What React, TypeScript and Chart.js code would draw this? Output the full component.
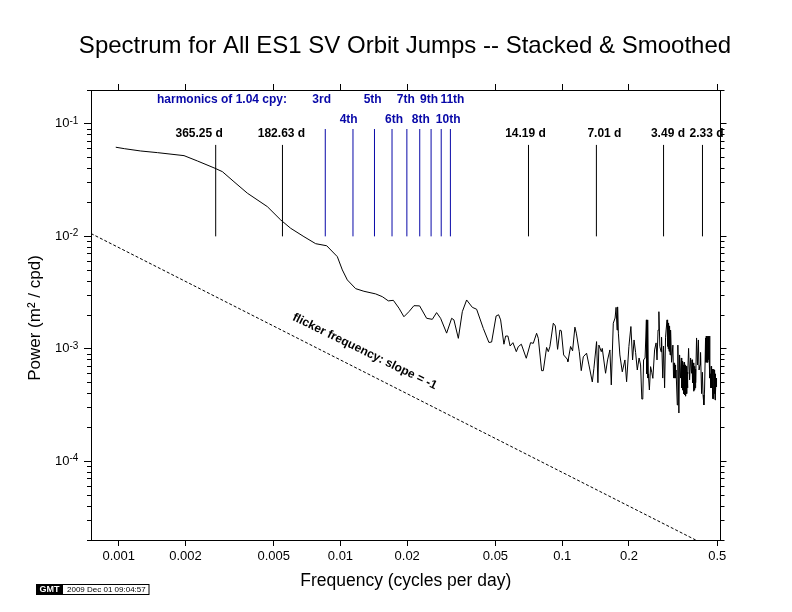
import { Chart, registerables } from "chart.js"
import type { Plugin } from "chart.js"
import { FC, useEffect, useRef } from "react"

Chart.register(...registerables)

const FONT = "'Liberation Sans', Arial, sans-serif"

const titleText = "Spectrum for All ES1 SV Orbit Jumps -- Stacked & Smoothed"
const xTitle = "Frequency (cycles per day)"
const yTitle = "Power (m\u00B2 / cpd)"
const stampText = "2009 Dec 01 09:04:57"
const harmonicsText = "harmonics of 1.04 cpy:"
const flickerText = "flicker frequency: slope = -1"

const xTicks = [0.001, 0.002, 0.005, 0.01, 0.02, 0.05, 0.1, 0.2, 0.5]
const yMajorTicks = [0.1, 0.01, 0.001, 0.0001]
const yExponents = ["-1", "-2", "-3", "-4"]
const yMinorTicks = [
    0.2, 0.09, 0.08, 0.07, 0.06, 0.05, 0.04, 0.03, 0.02,
    0.009, 0.008, 0.007, 0.006, 0.005, 0.004, 0.003, 0.002,
    0.0009, 0.0008, 0.0007, 0.0006, 0.0005, 0.0004, 0.0003, 0.0002,
    0.00009, 0.00008, 0.00007, 0.00006, 0.00005, 0.00004, 0.00003, 0.00002
]

const frequency = [
    0.00097, 0.00106, 0.001257, 0.001495, 0.00197, 0.002264, 0.002718, 0.002935, 0.00331, 0.003804,
    0.004682, 0.005376, 0.005963, 0.006845, 0.00773, 0.00867, 0.00968, 0.0102, 0.01074, 0.01171,
    0.01276, 0.01441, 0.01545, 0.01644, 0.01732, 0.01836, 0.01933, 0.02036, 0.02145, 0.02275,
    0.02447, 0.02596, 0.02714, 0.02829, 0.03012, 0.03173, 0.03249, 0.03401, 0.03545, 0.03707,
    0.03933, 0.04112, 0.04408, 0.04672, 0.04805, 0.05035, 0.05168, 0.05276, 0.0546, 0.05557,
    0.05691, 0.05823, 0.05995, 0.06209, 0.06339, 0.06541, 0.06887, 0.07202, 0.07407, 0.07666,
    0.07803, 0.08075, 0.08217, 0.08505, 0.08656, 0.08801, 0.09117, 0.09311, 0.09535, 0.09766,
    0.09906, 0.1015, 0.1054, 0.1061, 0.1091, 0.1114, 0.1141, 0.1158, 0.1194, 0.1219,
    0.1245, 0.1288, 0.132, 0.1367, 0.139, 0.1429, 0.1449, 0.1464, 0.1501, 0.1516,
    0.1569, 0.1602, 0.1641, 0.1665, 0.17, 0.1732, 0.175, 0.1768, 0.1778, 0.1792,
    0.182, 0.1866, 0.1918, 0.1952, 0.1999, 0.2041, 0.2077, 0.2109, 0.2143, 0.2181,
    0.2222, 0.2257, 0.2286, 0.2309, 0.2328, 0.2365, 0.2397, 0.2406, 0.2415, 0.2425,
    0.2435, 0.2444, 0.2453, 0.2473, 0.2504, 0.2535, 0.2564, 0.261, 0.2651, 0.2677,
    0.2706, 0.2729, 0.2757, 0.2792, 0.2806, 0.2841, 0.2865, 0.2896, 0.2925, 0.2945,
    0.2971, 0.298, 0.2996, 0.3007, 0.3018, 0.3033, 0.3049, 0.3065, 0.3082, 0.3113,
    0.3156, 0.3178, 0.3195, 0.3212, 0.3229, 0.3245, 0.3262, 0.3304, 0.3324, 0.3359,
    0.3384, 0.3418, 0.3447, 0.346, 0.3473, 0.3491, 0.3509, 0.3527, 0.3545, 0.3563,
    0.3582, 0.3601, 0.3627, 0.3642, 0.3658, 0.3673, 0.3688, 0.3715, 0.3754, 0.3793,
    0.3831, 0.3852, 0.3871, 0.3892, 0.3912, 0.3929, 0.3945, 0.3959, 0.3973, 0.3989,
    0.4005, 0.4036, 0.4078, 0.4113, 0.4142, 0.4186, 0.4207, 0.4252, 0.4287, 0.4318,
    0.4354, 0.4385, 0.4431, 0.4447, 0.4464, 0.4477, 0.4491, 0.4508, 0.4525, 0.4539,
    0.4553, 0.457, 0.4586, 0.4603, 0.4619, 0.4636, 0.4653, 0.4682, 0.4699, 0.4717,
    0.4741, 0.4766, 0.4786, 0.4806, 0.4825, 0.4846, 0.4866, 0.4891, 0.4904, 0.4917,
    0.4943, 0.4966
]
const power = [
    0.062, 0.0602, 0.0574, 0.0555, 0.0522, 0.0468, 0.0403, 0.0376, 0.0306, 0.0242,
    0.01837, 0.014, 0.0118, 0.00994, 0.00861, 0.00825, 0.0066, 0.00503, 0.0041, 0.00343,
    0.00325, 0.00308, 0.00291, 0.00267, 0.0027, 0.0023, 0.00193, 0.00214, 0.00242, 0.00241,
    0.00187, 0.00183, 0.0021, 0.00187, 0.00138, 0.00187, 0.00181, 0.00124, 0.00214, 0.00272,
    0.00234, 0.00225, 0.00152, 0.00114, 0.00115, 0.00196, 0.00201, 0.00181, 0.0011, 0.0013,
    0.0013, 0.00106, 0.001135, 0.000944, 0.001046, 0.0011, 0.000825, 0.001135, 0.00112, 0.001376,
    0.00124, 0.00064, 0.00064, 0.00103, 0.000944, 0.001046, 0.00169, 0.0016, 0.00099, 0.00147,
    0.00145, 0.000883, 0.00081, 0.00077, 0.00105, 0.00096, 0.00156, 0.00138, 0.000944, 0.00064,
    0.00085, 0.000915, 0.00072, 0.000508, 0.000672, 0.00116, 0.0005, 0.00108, 0.000944, 0.00101,
    0.000607, 0.000797, 0.000978, 0.000478, 0.00169, 0.00188, 0.00234, 0.00147, 0.00236, 0.00138,
    0.000883, 0.000625, 0.000797, 0.00051, 0.00105, 0.00158, 0.000797, 0.0012, 0.00093, 0.000649,
    0.00083, 0.00072, 0.000358, 0.000358, 0.000797, 0.00083, 0.00181, 0.0006, 0.00175, 0.00055,
    0.00181, 0.0006, 0.00055, 0.000431, 0.000695, 0.00062, 0.000547, 0.000978, 0.00113, 0.000797,
    0.00147, 0.00214, 0.00105, 0.00094, 0.00127, 0.00055, 0.00106, 0.00045, 0.00127, 0.0015,
    0.00181, 0.00105, 0.00175, 0.001, 0.0017, 0.00095, 0.0016, 0.000883, 0.00147, 0.00076,
    0.00108, 0.00055, 0.00075, 0.00055, 0.00072, 0.00055, 0.000649, 0.000317, 0.00108, 0.000269,
    0.000883, 0.00055, 0.00083, 0.00045, 0.00078, 0.00043, 0.00072, 0.0004, 0.00076, 0.000389,
    0.00072, 0.00038, 0.0007, 0.0004, 0.00062, 0.00045, 0.0006, 0.00101, 0.00053, 0.00083,
    0.000607, 0.0008, 0.0005, 0.00075, 0.00042, 0.00072, 0.00043, 0.0007, 0.00045, 0.00066,
    0.0005, 0.00125, 0.00072, 0.0012, 0.000649, 0.00072, 0.00093, 0.0004, 0.00062, 0.000389,
    0.000317, 0.000431, 0.00125, 0.00076, 0.0013, 0.00076, 0.00125, 0.00076, 0.0013, 0.00076,
    0.00127, 0.0008, 0.0013, 0.0008, 0.0013, 0.00055, 0.0006, 0.00045, 0.0007, 0.00045,
    0.00066, 0.00036, 0.00066, 0.00036, 0.00066, 0.0004, 0.000649, 0.000351, 0.0006, 0.0004,
    0.00055, 0.00046
]

const flickerFreq = [0.00075, 0.4]
const flickerPower = [0.0106, 0.00002]

const periodLabels = ["365.25 d", "182.63 d", "14.19 d", "7.01 d", "3.49 d", "2.33 d"]
const periodFreq = [0.002738, 0.005476, 0.07047, 0.14265, 0.2865, 0.4292]
const periodSpan = [0.01, 0.065]

const harmonicLabels = ["3rd", "4th", "5th", "6th", "7th", "8th", "9th", "10th", "11th"]
const harmonicFreq = [0.008542, 0.01139, 0.014237, 0.017084, 0.01993, 0.02278, 0.02563, 0.02847, 0.03132]
const harmonicSpan = [0.01, 0.09]

// label nudges off their lines, in pixels
const periodNudge = [-16.5, -1, -3, 8, 4.4, 4]
const harmonicNudge = [-3.6, -4.3, -1.8, 2, -1, 1, -2, 7, 2]

const BLUE = "#0808a8"

const textPlugin: Plugin = {
    id: "chartText",
    afterDraw(chart) {
        const { ctx, scales } = chart
        const x = scales.x
        const y = scales.y
        ctx.save()
        ctx.textBaseline = "middle"

        // power labels, 10 with a raised exponent
        ctx.fillStyle = "#000"
        ctx.textAlign = "left"
        yMajorTicks.forEach((v, i) => {
            const py = y.getPixelForValue(v)
            ctx.font = `13px ${FONT}`
            ctx.fillText("10", 55, py)
            ctx.font = `10px ${FONT}`
            ctx.fillText(yExponents[i], 69.5, py - 3)
        })

        ctx.textAlign = "center"

        // the title plugin squeezes text to the plot width, so it goes here
        ctx.font = `24px ${FONT}`
        ctx.fillText(titleText, 405, 46)

        ctx.save()
        ctx.translate(35, 318)
        ctx.rotate(-Math.PI / 2)
        ctx.font = `17px ${FONT}`
        ctx.fillText(yTitle, 0, 0)
        ctx.restore()

        ctx.font = `bold 12px ${FONT}`
        periodLabels.forEach((t, i) => {
            ctx.fillText(t, x.getPixelForValue(periodFreq[i]) + periodNudge[i], 134)
        })

        ctx.fillStyle = BLUE
        harmonicLabels.forEach((t, i) => {
            ctx.fillText(t, x.getPixelForValue(harmonicFreq[i]) + harmonicNudge[i], i % 2 ? 120 : 100)
        })
        ctx.fillText(harmonicsText, 222, 100)

        // sits along the flicker line
        ctx.fillStyle = "#000"
        ctx.save()
        ctx.translate(x.getPixelForValue(0.01285), y.getPixelForValue(0.000946))
        ctx.rotate((26 * Math.PI) / 180)
        ctx.font = `bold 12px ${FONT}`
        ctx.fillText(flickerText, 0, 0)
        ctx.restore()

        // GMT time stamp
        ctx.fillStyle = "#000"
        ctx.fillRect(36, 584, 27, 11)
        ctx.lineWidth = 1
        ctx.strokeStyle = "#000"
        ctx.strokeRect(36.5, 584.5, 112.5, 10)
        ctx.fillStyle = "#fff"
        ctx.font = `bold 9px ${FONT}`
        ctx.fillText("GMT", 49.5, 589.5)
        ctx.fillStyle = "#000"
        ctx.textAlign = "left"
        ctx.font = `8px ${FONT}`
        ctx.fillText(stampText, 67, 589.5)
        ctx.restore()
    }
}

const fixTicks = (values: number[]) => (axis: any) => {
    axis.ticks = values.map((value) => ({ value }))
}
const fixWidth = (width: number) => (axis: any) => {
    axis.width = width
}
const fixHeight = (height: number) => (axis: any) => {
    axis.height = height
}

const App: FC = () => {
    const canvas = useRef<HTMLCanvasElement>(null)

    useEffect(() => {
        if (!canvas.current) return

        const curve = frequency.map((f, i) => ({ x: f, y: power[i] }))
        const flicker = flickerFreq.map((f, i) => ({ x: f, y: flickerPower[i] }))

        const frameAxis = (tickLength: number) => ({
            border: { color: "#000", width: 1 },
            grid: { drawOnChartArea: false, tickLength, tickColor: "#000", tickWidth: 1 }
        })

        const chart = new Chart(canvas.current, {
            type: "line",
            data: {
                datasets: [
                    {
                        data: curve,
                        borderColor: "#000",
                        borderWidth: 1,
                        pointRadius: 0,
                        tension: 0
                    },
                    {
                        data: flicker,
                        borderColor: "#000",
                        borderWidth: 1,
                        borderDash: [3, 2],
                        pointRadius: 0
                    },
                    ...periodFreq.map((f) => ({
                        data: periodSpan.map((p) => ({ x: f, y: p })),
                        borderColor: "#000",
                        borderWidth: 1,
                        pointRadius: 0
                    })),
                    ...harmonicFreq.map((f) => ({
                        data: harmonicSpan.map((p) => ({ x: f, y: p })),
                        borderColor: BLUE,
                        borderWidth: 1,
                        pointRadius: 0
                    }))
                ]
            },
            plugins: [textPlugin],
            options: {
                animation: false,
                responsive: false,
                devicePixelRatio: 1,
                layout: { padding: { top: 90 } },
                plugins: {
                    legend: { display: false },
                    tooltip: { enabled: false },
                    title: { display: false }
                },
                scales: {
                    x: {
                        type: "logarithmic",
                        position: "bottom",
                        min: 0.00075,
                        max: 0.5175,
                        afterBuildTicks: fixTicks(xTicks),
                        afterFit: fixHeight(72),
                        ...frameAxis(6),
                        ticks: {
                            color: "#000",
                            padding: 3,
                            autoSkip: false,
                            maxRotation: 0,
                            font: { family: FONT, size: 13 },
                            callback: (v: any) => String(v)
                        },
                        title: {
                            display: true,
                            text: xTitle,
                            color: "#000",
                            font: { family: FONT, size: 17.5 },
                            padding: { top: 0, bottom: 20 }
                        }
                    },
                    xTop: {
                        type: "logarithmic",
                        position: "top",
                        min: 0.00075,
                        max: 0.5175,
                        afterBuildTicks: fixTicks(xTicks),
                        afterFit: fixHeight(0),
                        ...frameAxis(6),
                        ticks: { display: false }
                    },
                    y: {
                        type: "logarithmic",
                        position: "left",
                        weight: 1,
                        min: 0.00002,
                        max: 0.2,
                        afterBuildTicks: fixTicks(yMajorTicks),
                        afterFit: fixWidth(91),
                        ...frameAxis(7),
                        ticks: { display: false }
                    },
                    yMinor: {
                        type: "logarithmic",
                        position: "left",
                        weight: 0,
                        min: 0.00002,
                        max: 0.2,
                        afterBuildTicks: fixTicks(yMinorTicks),
                        afterFit: fixWidth(0),
                        ...frameAxis(4),
                        ticks: { display: false }
                    },
                    yRight: {
                        type: "logarithmic",
                        position: "right",
                        weight: 1,
                        min: 0.00002,
                        max: 0.2,
                        afterBuildTicks: fixTicks(yMajorTicks),
                        afterFit: fixWidth(71.5),
                        ...frameAxis(6),
                        ticks: { display: false }
                    },
                    yRightMinor: {
                        type: "logarithmic",
                        position: "right",
                        weight: 0,
                        min: 0.00002,
                        max: 0.2,
                        afterBuildTicks: fixTicks(yMinorTicks),
                        afterFit: fixWidth(0),
                        ...frameAxis(4),
                        ticks: { display: false }
                    }
                }
            }
        } as any)

        return () => chart.destroy()
    }, [])

    return (
        <canvas
            ref={canvas}
            width={792}
            height={612}
            style={{ position: "fixed", left: 0, top: 0, background: "#fff" }}
        />
    )
}

export default App
